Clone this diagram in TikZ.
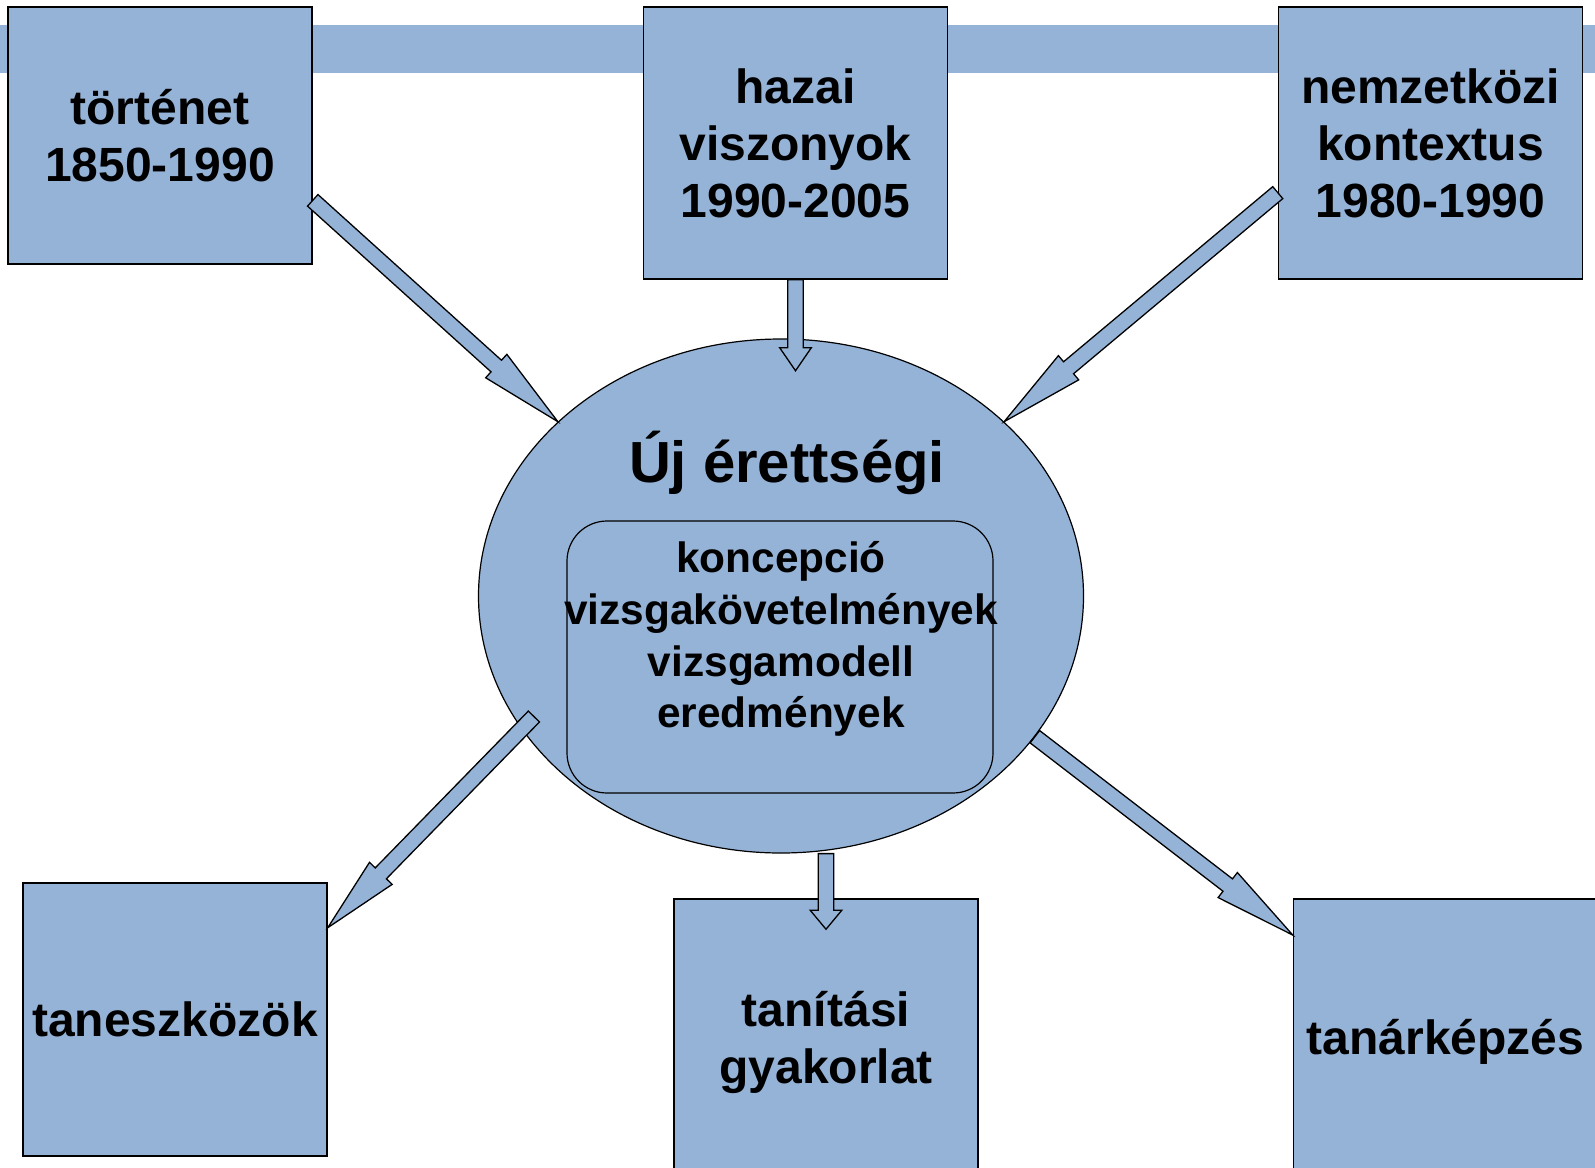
\documentclass[tikz,border=0pt]{standalone}
\usepackage{fontspec}
\setmainfont{Liberation Sans}
\usetikzlibrary{calc,shapes.geometric}
\definecolor{kek}{HTML}{95B3D7}

% block arrow from #1 to #2, head length #3
\newcommand\nyil[3]{%
  \draw[nyilvonal] let \p1=($(#2)-(#1)$), \n1={atan2(\y1,\x1)}, \n2={veclen(\x1,\y1)} in
    [shift={(#1)},rotate=\n1]
    (0pt,-3.9pt) -- (\n2-#3,-3.9pt) -- (\n2-#3,-7.9pt) -- (\n2,0pt)
    -- (\n2-#3,7.9pt) -- (\n2-#3,3.9pt) -- (0pt,3.9pt) -- cycle;}

\begin{document}
\begin{tikzpicture}[x=.5pt,y=-.5pt,line join=miter,
  doboz/.style={draw,fill=kek,line width=.75pt,inner sep=0pt,align=center,
    minimum width=152pt,minimum height=136pt,font=\fontsize{24}{28.5}\selectfont\bfseries},
  nyilvonal/.style={draw,fill=kek,line width=.65pt}]
  \useasboundingbox (0,0) rectangle (1595,1167);
  \fill[kek] (0,25) rectangle (1595,73);
  \node[doboz,minimum height=128.5pt] (tort) at (160,135.5) {történet\\1850-1990};
  \node[doboz] (hazai) at (795.5,143) {hazai\\viszonyok\\1990-2005};
  \node[doboz] (nemz) at (1430.5,143) {nemzetközi\\kontextus\\1980-1990};
  \node[doboz,minimum height=136.5pt] (tanesz) at (175,1019.5) {taneszközök};
  \node[doboz,minimum height=143pt] (tanit) at (826,1042) {tanítási\\gyakorlat};
  \node[doboz,minimum height=143pt] (tanark) at (1445.5,1042) {tanárképzés};
  \node[ellipse,draw,fill=kek,line width=.6pt,inner sep=0pt,
    minimum width=302.5pt,minimum height=257pt] (uj) at (781,596) {};
  \node[draw,fill=kek,line width=.6pt,rounded corners=20pt,
    minimum width=213pt,minimum height=136pt] (belso) at (780,657) {};
  \node[font=\fontsize{29}{34}\selectfont\bfseries,anchor=base] (cim) at (787,482) {Új érettségi};
  \node[font=\fontsize{21.2}{25.9}\selectfont\bfseries,align=center] (lista) at (781,639)
    {koncepció\\vizsgakövetelmények\\vizsgamodell\\eredmények};
  \coordinate (uj4) at ($(uj.center)!.94!(uj.206)$);
  \coordinate (hazai2) at ($(hazai.south)+(0,91)$);
  \coordinate (tanit5a) at (uj.south -| tanit.north);
  \coordinate (tanit5b) at ($(tanit.north)+(0,31)$);
  \nyil{tort.-23}{uj.142}{41.5pt}
  \nyil{hazai.south}{hazai2}{11.5pt}
  \nyil{nemz.198}{uj.38}{42pt}
  \nyil{uj4}{tanesz.31}{38pt}
  \nyil{tanit5a}{tanit5b}{9.5pt}
  \nyil{uj.-29}{tanark.145}{41pt}
\end{tikzpicture}
\end{document}
